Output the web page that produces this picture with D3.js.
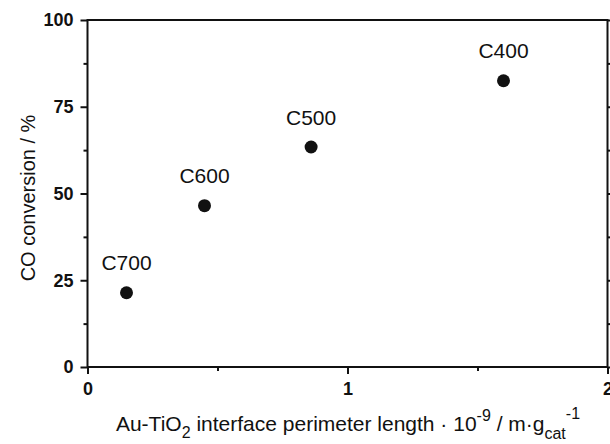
<!DOCTYPE html>
<html>
<head>
<meta charset="utf-8">
<script src="https://cdn.jsdelivr.net/npm/d3@7"></script>
<style>
  body { margin: 0; background: #fff; }
  text { font-family: Arial, "Liberation Sans", sans-serif; fill: #111; }
</style>
</head>
<body>
<script>
var width = 610,
    height = 444;

// values
var samples = ["C700", "C600", "C500", "C400"];
var perimeter = [0.15, 0.45, 0.86, 1.60];
var conversion = [21.4, 46.5, 63.4, 82.5];

var xTicks = [0, 0.5, 1, 1.5, 2];
var xLabels = [0, 1, 2];
var yTicks = [0, 12.5, 25, 37.5, 50, 62.5, 75, 87.5, 100];
var yLabels = [0, 25, 50, 75, 100];

var margin = {top: 20, right: 2.5, bottom: 77, left: 87.5};

var svg = d3.select('body')
    .append('svg')
    .attr('width', width)
    .attr('height', height);

var x = d3.scaleLinear()
    .domain([0, 2])
    .range([margin.left, width - margin.right]);

var y = d3.scaleLinear()
    .domain([0, 100])
    .range([height - margin.bottom, margin.top]);

//tick length depends on whether the tick gets a label
function tickLen(labels, major, minor){
    return function(d){ return labels.indexOf(d) >= 0 ? major : minor; };
}

function styleAxis(g){
    g.selectAll('.domain').remove();
    g.selectAll('.tick line').attr('stroke', '#111').attr('stroke-width', 2);
    g.selectAll('.tick text')
        .style('font-size', '18px')
        .style('font-weight', 'bold');
}

// bottom axis
var gx = svg.append('g')
    .attr('transform', 'translate(0,' + y(0) + ')')
    .call(d3.axisBottom(x).tickValues(xTicks).tickSize(0).tickPadding(15)
        .tickFormat(function(d){ return xLabels.indexOf(d) >= 0 ? d : ''; }));
styleAxis(gx);
gx.selectAll('.tick line').attr('y2', tickLen(xLabels, 7, 4));

// left axis
var gy = svg.append('g')
    .attr('transform', 'translate(' + x(0) + ',0)')
    .call(d3.axisLeft(y).tickValues(yTicks).tickSize(0).tickPadding(14)
        .tickFormat(function(d){ return yLabels.indexOf(d) >= 0 ? d : ''; }));
styleAxis(gy);
gy.selectAll('.tick line').attr('x2', function(d){ return -tickLen(yLabels, 7, 4)(d); });

// right axis, ticks only
var gr = svg.append('g')
    .attr('transform', 'translate(' + x(2) + ',0)')
    .call(d3.axisRight(y).tickValues(yTicks).tickSize(0).tickFormat(''));
styleAxis(gr);
gr.selectAll('.tick line').attr('x2', tickLen(yLabels, 7, 4));

// frame
svg.append('rect')
    .attr('x', x(0))
    .attr('y', y(100))
    .attr('width', x(2) - x(0))
    .attr('height', y(0) - y(100))
    .attr('fill', 'none')
    .attr('stroke', '#111')
    .attr('stroke-width', 2);

// points
svg.selectAll('circle.pt')
    .data(samples)
    .enter().append('circle')
    .attr('class', 'pt')
    .attr('cx', function(d, i){ return x(perimeter[i]); })
    .attr('cy', function(d, i){ return y(conversion[i]); })
    .attr('r', 6.5)
    .attr('fill', '#111');

svg.selectAll('text.lbl')
    .data(samples)
    .enter().append('text')
    .attr('class', 'lbl')
    .attr('x', function(d, i){ return x(perimeter[i]); })
    .attr('y', function(d, i){ return y(conversion[i]) - 22.5; })
    .attr('text-anchor', 'middle')
    .style('font-size', '21px')
    .text(function(d){ return d; });

// y title
svg.append('text')
    .attr('transform', 'translate(35,198) rotate(-90)')
    .attr('text-anchor', 'middle')
    .style('font-size', '20px')
    .text('CO conversion / %');

// x title with sub/superscripts
var xt = svg.append('text')
    .attr('x', 348)
    .attr('y', 431)
    .attr('text-anchor', 'middle')
    .style('font-size', '21px');
xt.append('tspan').text('Au-TiO');
xt.append('tspan').attr('dy', 7).style('font-size', '16px').text('2');
xt.append('tspan').attr('dy', -7).text(' interface perimeter length \u00b7 10');
xt.append('tspan').attr('dy', -10).style('font-size', '16px').text('-9');
xt.append('tspan').attr('dy', 10).text(' / m\u00b7g');
xt.append('tspan').attr('dy', 8).style('font-size', '16px').text('cat');
xt.append('tspan').attr('dy', -20).style('font-size', '16px').text('-1');
</script>
</body>
</html>
